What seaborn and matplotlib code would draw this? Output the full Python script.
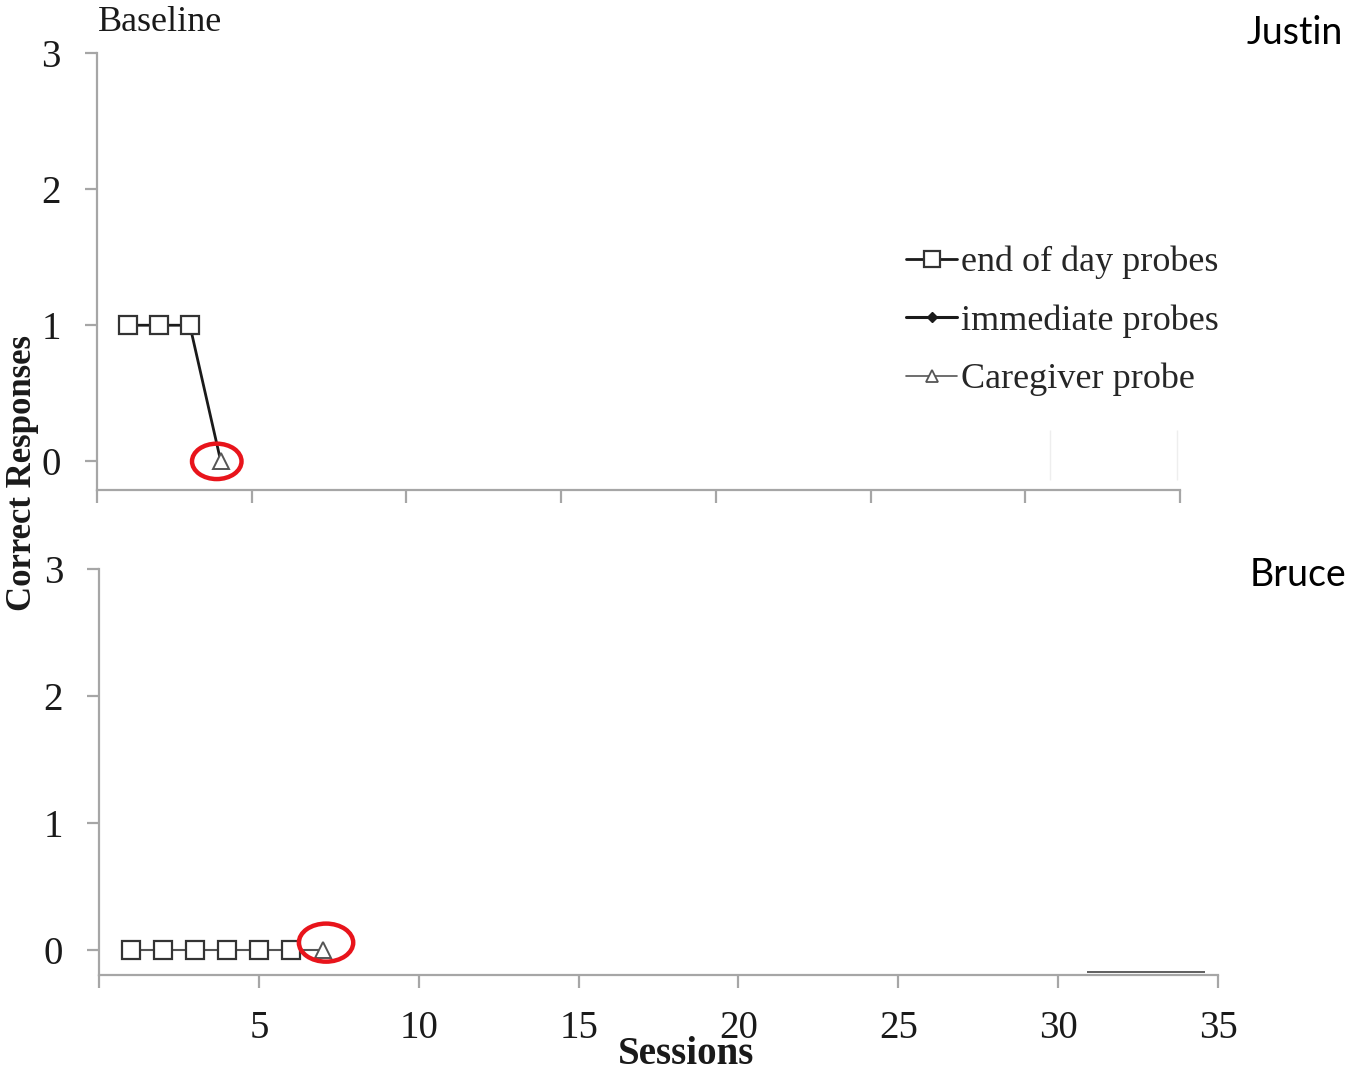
import matplotlib
matplotlib.use("Agg")
import matplotlib.pyplot as plt
import seaborn as sns
from matplotlib.lines import Line2D
from matplotlib.patches import Ellipse

# Data
justin_eod_sessions = [1, 2, 3]
justin_eod = [1, 1, 1]
justin_cg_sessions = [4]
justin_cg = [0]

bruce_eod_sessions = [1, 2, 3, 4, 5, 6]
bruce_eod = [0, 0, 0, 0, 0, 0]
bruce_cg_sessions = [7]
bruce_cg = [0]

x_ticks = [0, 5, 10, 15, 20, 25, 30, 35]
x_tick_labels = ["", "5", "10", "15", "20", "25", "30", "35"]
y_ticks = [0, 1, 2, 3]

legend_labels = ["end of day probes", "immediate probes", "Caregiver probe"]

SERIF = ["Liberation Serif", "DejaVu Serif"]
GRAY = "#a6a6a6"


def style_axis(ax, show_xlabels):
    sns.despine(ax=ax)
    for side in ["left", "bottom"]:
        ax.spines[side].set_color(GRAY)
        ax.spines[side].set_linewidth(1.6)
    ax.set_xlim(0, 35)
    ax.set_xticks(x_ticks)
    ax.set_yticks(y_ticks)
    ax.set_yticklabels([str(v) for v in y_ticks], fontsize=28, family=SERIF)
    if show_xlabels:
        ax.set_xticklabels(x_tick_labels, fontsize=28, family=SERIF)
    else:
        ax.set_xticklabels([])
    ax.tick_params(axis="both", colors=GRAY, length=9, width=1.6,
                   labelcolor="#1a1a1a", bottom=True, left=True)
    ax.tick_params(axis="y", pad=17)
    ax.tick_params(axis="x", pad=16)
    ax.set_xlabel("")
    ax.set_ylabel("")
    ax.grid(False)


def draw_panel(ax, eod_x, eod_y, cg_x, cg_y, line_color, line_width):
    sns.lineplot(x=eod_x + cg_x, y=eod_y + cg_y, ax=ax, color=line_color,
                 linewidth=line_width, sort=False, zorder=2)
    ax.plot(eod_x, eod_y, linestyle="none", marker="s", markersize=13,
            markerfacecolor="white", markeredgecolor="#333333",
            markeredgewidth=1.6, zorder=3)
    ax.plot(cg_x, cg_y, linestyle="none", marker="^", markersize=12,
            markerfacecolor="white", markeredgecolor="#555555",
            markeredgewidth=1.4, zorder=3)


def main():
    sns.set_style("white")
    plt.rcParams["font.family"] = SERIF

    fig = plt.figure(figsize=(13.55, 10.74), dpi=100)
    ax1 = fig.add_axes([0.0716, 0.5438, 0.7992, 0.4069])
    ax2 = fig.add_axes([0.0731, 0.0922, 0.8258, 0.3780])

    draw_panel(ax1, justin_eod_sessions, justin_eod, justin_cg_sessions, justin_cg,
               "#1a1a1a", 2.0)
    ax1.set_ylim(-0.21, 3)
    style_axis(ax1, False)

    draw_panel(ax2, bruce_eod_sessions, bruce_eod, bruce_cg_sessions, bruce_cg,
               "#555555", 1.5)
    ax2.set_ylim(-0.2, 3)
    style_axis(ax2, True)

    # red highlight circles around the caregiver probes
    ax1.add_patch(Ellipse((justin_cg_sessions[0] - 0.13, justin_cg[0]), 1.6, 0.26,
                          fill=False, edgecolor="#e8141b", linewidth=3.2, zorder=4))
    ax2.add_patch(Ellipse((bruce_cg_sessions[0] + 0.1, bruce_cg[0] + 0.055), 1.7, 0.30,
                          fill=False, edgecolor="#e8141b", linewidth=3.2, zorder=4))

    # stray marks present in the source image
    ax2.hlines(-0.18, 30.9, 34.6, color="#444444", linewidth=1.2)
    ax1.vlines([30.8, 34.9], -0.14, 0.23, color="#eeeeee", linewidth=1.0)

    # legend (immediate probes has no data points here)
    handles = [
        Line2D([], [], color="#1a1a1a", linewidth=2.0, marker="s", markersize=11,
               markerfacecolor="white", markeredgecolor="#333333", markeredgewidth=1.6),
        Line2D([], [], color="#1a1a1a", linewidth=2.2, marker="D", markersize=5,
               markerfacecolor="#1a1a1a", markeredgecolor="#1a1a1a"),
        Line2D([], [], color="#555555", linewidth=1.2, marker="^", markersize=9,
               markerfacecolor="white", markeredgecolor="#555555", markeredgewidth=1.3),
    ]
    fig.legend(handles, legend_labels, loc="upper left",
               bbox_to_anchor=(0.669, 0.771), frameon=False,
               handlelength=1.4, handletextpad=0.12, labelspacing=0.69,
               borderpad=0, borderaxespad=0, prop={"family": SERIF, "size": 26})

    fig.text(0.072, 0.979, "Baseline", fontsize=26, family=SERIF,
             ha="left", va="center", color="#1a1a1a")
    fig.text(0.991, 0.969, "Justin", fontsize=27, family=["Lato", "DejaVu Sans"],
             ha="right", va="center", color="black")
    fig.text(0.994, 0.465, "Bruce", fontsize=27, family=["Lato", "DejaVu Sans"],
             ha="right", va="center", color="black")
    fig.text(0.0165, 0.56, "Correct Responses", fontsize=25, family=SERIF,
             fontweight="bold", rotation=90, ha="center", va="center", color="#1a1a1a")
    fig.text(0.506, 0.018, "Sessions", fontsize=28, family=SERIF,
             fontweight="bold", ha="center", va="center", color="#1a1a1a")

    fig.savefig("out.png", dpi=100)


if __name__ == "__main__":
    main()
